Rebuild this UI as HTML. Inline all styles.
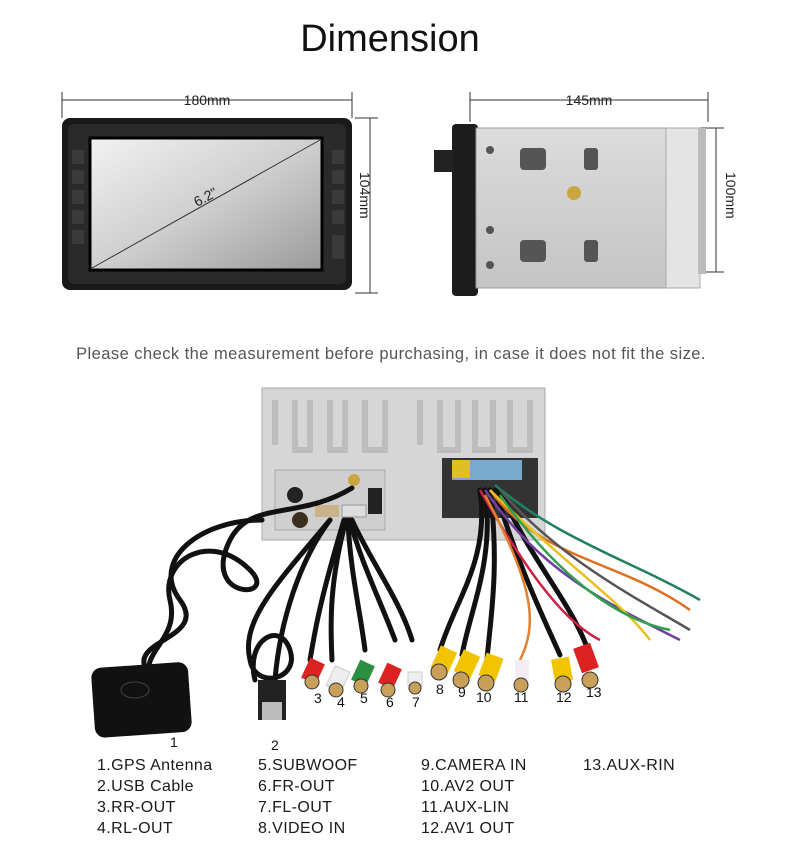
<!DOCTYPE html>
<html><head><meta charset="utf-8"><style>
html,body{margin:0;padding:0;background:#fff;}
body{width:800px;height:852px;position:relative;overflow:hidden;font-family:"Liberation Sans",sans-serif;}
.t{position:absolute;white-space:nowrap;color:#222;}
.lg{font-size:16px;line-height:21px;letter-spacing:0.4px;color:#1a1a1a;top:755px;}
</style></head><body>
<div class="t" style="left:0;width:780px;text-align:center;top:18px;font-size:38px;color:#111;">Dimension</div>
<div class="t" style="left:0;width:782px;text-align:center;top:345px;font-size:16.5px;letter-spacing:0.45px;color:#555;">Please check the measurement before purchasing, in case it does not fit the size.</div>
<svg width="800" height="852" style="position:absolute;left:0;top:0" xmlns="http://www.w3.org/2000/svg">
<defs>
<linearGradient id="scr" x1="0" y1="0" x2="1" y2="1"><stop offset="0" stop-color="#f2f2f2"/><stop offset="0.5" stop-color="#cfcfcf"/><stop offset="1" stop-color="#9a9a9a"/></linearGradient>
<linearGradient id="met" x1="0" y1="0" x2="0" y2="1"><stop offset="0" stop-color="#dcdcdc"/><stop offset="1" stop-color="#c4c4c4"/></linearGradient>
</defs>
<g stroke="#333" stroke-width="1" fill="none">
<line x1="62" y1="100" x2="352" y2="100"/><line x1="62" y1="92" x2="62" y2="118"/><line x1="352" y1="92" x2="352" y2="118"/>
<line x1="370" y1="118" x2="370" y2="293"/><line x1="355" y1="118" x2="378" y2="118"/><line x1="355" y1="293" x2="378" y2="293"/>
<line x1="470" y1="100" x2="708" y2="100"/><line x1="470" y1="92" x2="470" y2="122"/><line x1="708" y1="92" x2="708" y2="122"/>
<line x1="716" y1="128" x2="716" y2="272"/><line x1="700" y1="128" x2="724" y2="128"/><line x1="700" y1="272" x2="724" y2="272"/>
</g>
<text x="207" y="105" font-size="14" text-anchor="middle" fill="#222" font-family="Liberation Sans">180mm</text>
<text x="589" y="105" font-size="14" text-anchor="middle" fill="#222" font-family="Liberation Sans">145mm</text>
<text x="0" y="0" font-size="14" fill="#222" font-family="Liberation Sans" transform="translate(360,172) rotate(90)">104mm</text>
<text x="0" y="0" font-size="14" fill="#222" font-family="Liberation Sans" transform="translate(726,172) rotate(90)">100mm</text>
<rect x="62" y="118" width="290" height="172" rx="8" fill="#1a1a1a"/>
<rect x="68" y="124" width="278" height="160" rx="6" fill="#2a2a2a"/>
<rect x="90" y="138" width="232" height="132" fill="url(#scr)" stroke="#000" stroke-width="3"/>
<line x1="92" y1="268" x2="320" y2="140" stroke="#333" stroke-width="1"/>
<text x="0" y="0" font-size="14" fill="#222" font-family="Liberation Sans" transform="translate(197,207) rotate(-28)">6.2"</text>
<g fill="#3a3a3a"><rect x="72" y="150" width="12" height="14" rx="2"/><rect x="72" y="170" width="12" height="14" rx="2"/><rect x="72" y="190" width="12" height="14" rx="2"/><rect x="72" y="210" width="12" height="14" rx="2"/><rect x="72" y="230" width="12" height="14" rx="2"/>
<rect x="332" y="150" width="12" height="14" rx="2"/><rect x="332" y="170" width="12" height="14" rx="2"/><rect x="332" y="190" width="12" height="14" rx="2"/><rect x="332" y="210" width="12" height="14" rx="2"/><rect x="332" y="235" width="12" height="24" rx="2"/></g>
<rect x="452" y="124" width="26" height="172" rx="4" fill="#1c1c1c"/>
<rect x="434" y="150" width="20" height="22" fill="#222"/>
<rect x="476" y="128" width="190" height="160" fill="url(#met)" stroke="#999"/>
<rect x="666" y="128" width="34" height="160" fill="#e4e4e4" stroke="#aaa"/>
<rect x="698" y="128" width="8" height="146" fill="#bbb"/>
<g fill="#555"><rect x="520" y="148" width="26" height="22" rx="4"/><rect x="584" y="148" width="14" height="22" rx="3"/><rect x="520" y="240" width="26" height="22" rx="4"/><rect x="584" y="240" width="14" height="22" rx="3"/><circle cx="490" cy="150" r="4"/><circle cx="490" cy="230" r="4"/><circle cx="490" cy="265" r="4"/></g>
<circle cx="574" cy="193" r="7" fill="#c9a640"/>
<rect x="262" y="388" width="283" height="152" fill="#d6d6d6" stroke="#aaa"/>
<g stroke="#bdbdbd" stroke-width="6" fill="none"><path d="M275 400 v45 M295 400 v50 h15 v-50 M330 400 v50 h15 v-50 M365 400 v50 h20 v-50 M420 400 v45 M440 400 v50 h18 v-50 M475 400 v50 h18 v-50 M510 400 v50 h20 v-50"/></g>
<rect x="275" y="470" width="110" height="60" fill="#cfcfcf" stroke="#aaa"/>
<rect x="442" y="458" width="96" height="60" fill="#333"/>
<rect x="452" y="460" width="70" height="20" fill="#7ac"/>
<rect x="452" y="460" width="18" height="18" fill="#e0c020"/>
<rect x="368" y="488" width="14" height="26" fill="#222"/>
<circle cx="295" cy="495" r="8" fill="#222"/><circle cx="300" cy="520" r="8" fill="#3a3020"/>
<circle cx="354" cy="480" r="6" fill="#c9a640"/>
<rect x="315" y="505" width="24" height="12" fill="#c9b48a"/><rect x="342" y="505" width="24" height="12" fill="#ddd" stroke="#999"/>
<g fill="none" stroke="#111" stroke-width="5" stroke-linecap="round">
<path d="M352 488 C300 520 250 500 230 540 C200 600 280 600 250 570 C210 530 160 560 170 600 C180 640 140 650 150 680"/>
<path d="M262 520 C200 520 150 560 180 600 C210 640 120 640 150 675"/>
<path d="M330 520 C300 560 280 620 275 680 C272 700 280 715 278 700"/>
<path d="M330 520 C280 580 240 620 250 660 C255 690 300 680 290 650 C280 620 245 640 255 680"/>
<path d="M350 520 C360 560 380 600 395 640"/><path d="M352 520 C370 560 400 600 412 640"/><path d="M348 520 C350 570 360 610 365 650"/><path d="M346 520 C330 580 330 620 332 660"/><path d="M344 520 C320 600 315 630 310 660"/>
<path d="M480 490 C490 560 455 600 440 650"/><path d="M485 490 C495 560 470 610 462 655"/><path d="M490 490 C500 570 490 620 487 660"/><path d="M495 490 C520 570 540 610 560 655"/><path d="M500 490 C530 560 570 600 588 650"/>
</g>
<g fill="none" stroke-width="2.5">
<path d="M490 490 C540 560 620 560 690 610" stroke="#e07020"/><path d="M495 485 C560 540 630 560 700 600" stroke="#208060"/><path d="M485 490 C540 570 600 600 680 640" stroke="#7040a0"/><path d="M490 490 C560 560 620 600 650 640" stroke="#e8c020"/><path d="M480 490 C520 560 560 620 600 640" stroke="#cc2244"/><path d="M500 490 C560 560 640 600 690 630" stroke="#555"/><path d="M485 495 C530 580 540 620 520 660" stroke="#e08030"/><path d="M500 495 C560 580 620 620 670 630" stroke="#30a050"/>
</g>
<rect x="93" y="665" width="97" height="70" rx="10" fill="#111" transform="rotate(-4 140 700)"/>
<ellipse cx="135" cy="690" rx="14" ry="8" fill="none" stroke="#444"/>
<rect x="258" y="680" width="28" height="40" fill="#222"/><rect x="262" y="702" width="20" height="18" fill="#bbb"/>
<g>
<rect x="305" y="660" width="16" height="22" fill="#d22" transform="rotate(25 313 671)"/><circle cx="312" cy="682" r="7" fill="#c9a05a" stroke="#333"/>
<rect x="330" y="668" width="16" height="22" fill="#eee" stroke="#ccc" transform="rotate(25 338 679)"/><circle cx="336" cy="690" r="7" fill="#c9a05a" stroke="#333"/>
<rect x="355" y="662" width="16" height="22" fill="#2a9040" transform="rotate(25 363 673)"/><circle cx="361" cy="686" r="7" fill="#c9a05a" stroke="#333"/>
<rect x="382" y="665" width="16" height="22" fill="#d22" transform="rotate(25 390 676)"/><circle cx="388" cy="690" r="7" fill="#c9a05a" stroke="#333"/>
<rect x="408" y="672" width="14" height="14" fill="#eee" stroke="#ccc"/><circle cx="415" cy="688" r="6" fill="#c9a05a" stroke="#333"/>
<rect x="435" y="648" width="18" height="24" fill="#f2c400" transform="rotate(25 444 660)"/><circle cx="439" cy="672" r="8" fill="#c9a05a" stroke="#333"/>
<rect x="458" y="652" width="18" height="24" fill="#f2c400" transform="rotate(25 467 664)"/><circle cx="461" cy="680" r="8" fill="#c9a05a" stroke="#333"/>
<rect x="482" y="655" width="18" height="24" fill="#f2c400" transform="rotate(20 491 667)"/><circle cx="486" cy="683" r="8" fill="#c9a05a" stroke="#333"/>
<rect x="515" y="660" width="14" height="24" fill="#f4eef4"/><circle cx="521" cy="685" r="7" fill="#c9a05a" stroke="#333"/>
<rect x="553" y="658" width="18" height="24" fill="#f2c400" transform="rotate(-10 562 670)"/><circle cx="563" cy="684" r="8" fill="#c9a05a" stroke="#333"/>
<rect x="577" y="645" width="18" height="26" fill="#d22" transform="rotate(-20 586 658)"/><circle cx="590" cy="680" r="8" fill="#c9a05a" stroke="#333"/>
</g>
<g font-size="14" fill="#111" font-family="Liberation Sans">
<text x="170" y="747">1</text><text x="271" y="750">2</text>
<text x="314" y="703">3</text><text x="337" y="707">4</text><text x="360" y="703">5</text><text x="386" y="707">6</text><text x="412" y="707">7</text><text x="436" y="694">8</text><text x="458" y="697">9</text><text x="476" y="702">10</text><text x="514" y="702">11</text><text x="556" y="702">12</text><text x="586" y="697">13</text>
</g>
</svg>
<div class="t lg" style="left:97px;">1.GPS Antenna<br>2.USB Cable<br>3.RR-OUT<br>4.RL-OUT</div>
<div class="t lg" style="left:258px;">5.SUBWOOF<br>6.FR-OUT<br>7.FL-OUT<br>8.VIDEO IN</div>
<div class="t lg" style="left:421px;">9.CAMERA IN<br>10.AV2 OUT<br>11.AUX-LIN<br>12.AV1 OUT</div>
<div class="t lg" style="left:583px;">13.AUX-RIN</div>
</body></html>
